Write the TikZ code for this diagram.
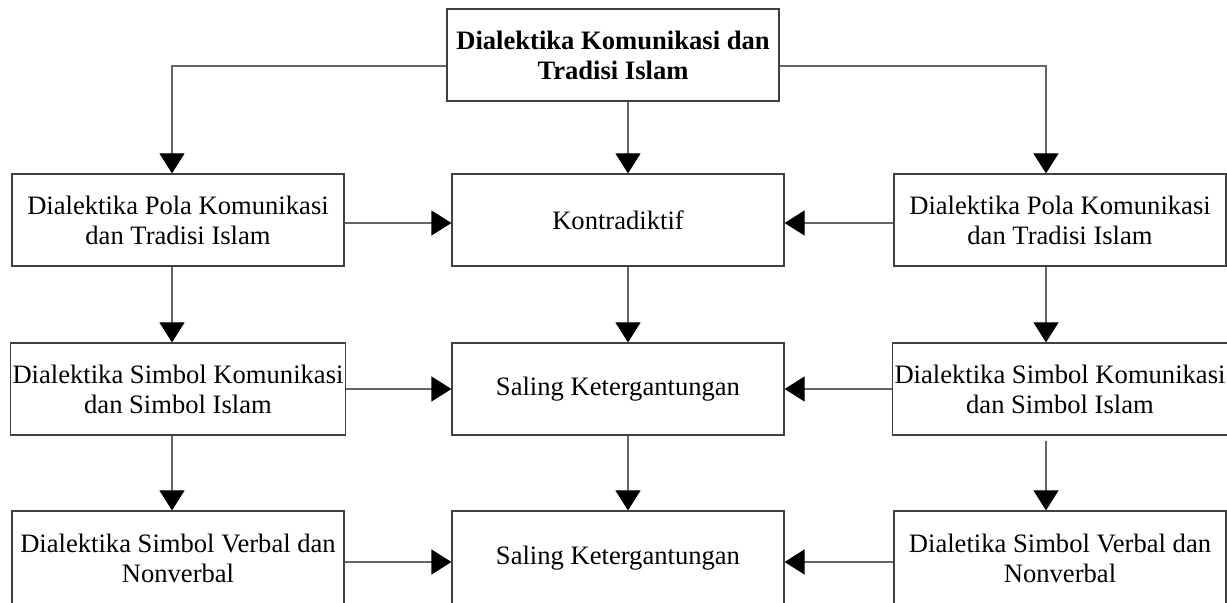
\documentclass[tikz,border=0pt]{standalone}
\usepackage{fontspec}
\setmainfont{Liberation Serif}
\usetikzlibrary{arrows.meta}
\tikzset{
  box/.style={draw=black!75, line width=0.6pt, minimum width=166pt, minimum height=46pt,
    inner sep=1pt, align=center, font=\fontsize{13.3}{15}\selectfont},
  lowbox/.style={box, minimum height=47.5pt},
  link/.style={draw=black!60, line width=0.6pt,
    -{Triangle[width=12.5pt,length=10pt,color=black]}},
}
\begin{document}
\begin{tikzpicture}[x=0.5pt,y=-0.5pt]
    \useasboundingbox (0,0) rectangle (1227,603);
    %% columns and rows for the connectors
    \coordinate (cl) at (172,0);
    \coordinate (cm) at (628,0);
    \coordinate (cr) at (1046,0);
    \coordinate (ra) at (0,223);
    \coordinate (rb) at (0,389);
    \coordinate (rc) at (0,562);
    \coordinate (rt) at (0,66);
    %% top
    \node[box] (top) at (613,55) {\textbf{Dialektika Komunikasi dan}\\\textbf{Tradisi Islam}};
    %% left column
    \node[box] (l1) at (178,220) {Dialektika Pola Komunikasi\\dan Tradisi Islam};
    \node[box] (l2) at (178,389) {Dialektika Simbol Komunikasi\\dan Simbol Islam};
    \node[lowbox] (l3) at (178,558.5) {Dialektika Simbol Verbal dan\\Nonverbal};
    %% middle column
    \node[box] (m1) at (618,220) {Kontradiktif};
    \node[box] (m2) at (618,389) {Saling Ketergantungan};
    \node[lowbox] (m3) at (618,558.5) {Saling Ketergantungan};
    %% right column
    \node[box] (r1) at (1060,220) {Dialektika Pola Komunikasi\\dan Tradisi Islam};
    \node[box] (r2) at (1060,389) {Dialektika Simbol Komunikasi\\dan Simbol Islam};
    \node[lowbox] (r3) at (1060,558.5) {Dialetika Simbol Verbal dan\\Nonverbal};
    %% from the top
    \draw[link] (top.west |- rt) -| (l1.north -| cl);
    \draw[link] (top.south -| cm) -- (m1.north -| cm);
    \draw[link] (top.east |- rt) -| (r1.north -| cr);
    %% down the columns
    \draw[link] (l1.south -| cl) -- (l2.north -| cl);
    \draw[link] (l2.south -| cl) -- (l3.north -| cl);
    \draw[link] (m1.south -| cm) -- (m2.north -| cm);
    \draw[link] (m2.south -| cm) -- (m3.north -| cm);
    \draw[link] (r1.south -| cr) -- (r2.north -| cr);
    \draw[link] ([yshift=-2.5pt]r2.south -| cr) -- (r3.north -| cr);
    %% into the middle
    \draw[link] (l1.east |- ra) -- (m1.west |- ra);
    \draw[link] (r1.west |- ra) -- (m1.east |- ra);
    \draw[link] (l2.east |- rb) -- (m2.west |- rb);
    \draw[link] (r2.west |- rb) -- (m2.east |- rb);
    \draw[link] (l3.east |- rc) -- (m3.west |- rc);
    \draw[link] (r3.west |- rc) -- (m3.east |- rc);
\end{tikzpicture}
\end{document}
